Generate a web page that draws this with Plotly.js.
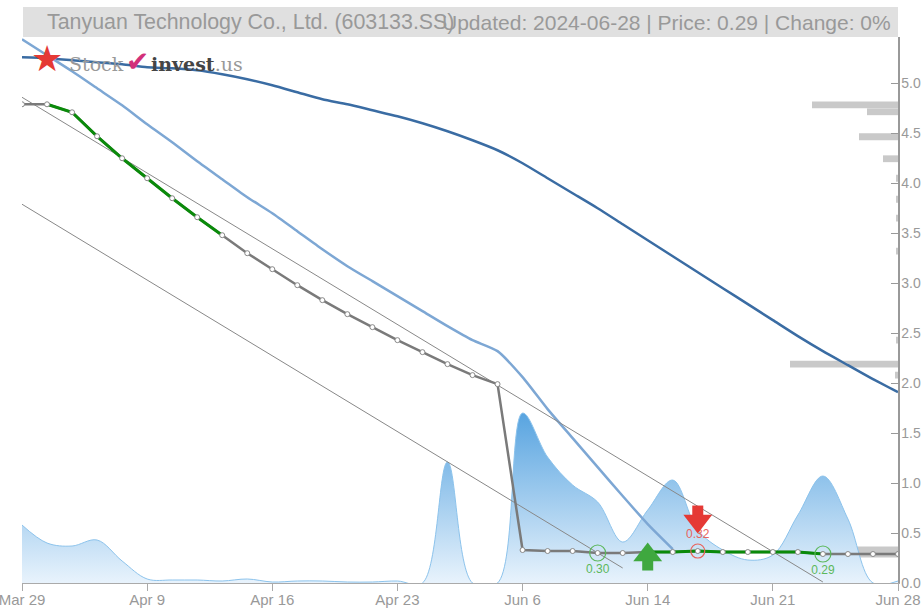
<!DOCTYPE html>
<html><head><meta charset="utf-8">
<script src="https://cdn.plot.ly/plotly-3.0.1.min.js"></script>
<style>html,body{margin:0;padding:0;background:#fff}#chart{width:923px;height:608px}</style>
</head><body><div id="chart"></div>
<script>
// ---------- data ----------
const dates = ["2024-03-29","2024-04-01","2024-04-02","2024-04-03","2024-04-08","2024-04-09","2024-04-10","2024-04-11","2024-04-12","2024-04-15","2024-04-16","2024-04-17","2024-04-18","2024-04-19","2024-04-22","2024-04-23","2024-04-24","2024-04-25","2024-04-26","2024-04-29","2024-06-06","2024-06-07","2024-06-11","2024-06-12","2024-06-13","2024-06-14","2024-06-17","2024-06-18","2024-06-19","2024-06-20","2024-06-21","2024-06-24","2024-06-25","2024-06-26","2024-06-27","2024-06-28"];
const tickDates = ["2024-03-29","2024-04-09","2024-04-16","2024-04-23","2024-06-06","2024-06-14","2024-06-21","2024-06-28"];
const tickLabels = ["Mar 29","Apr 9","Apr 16","Apr 23","Jun 6","Jun 14","Jun 21","Jun 28"];
const closePrice = [4.79,4.79,4.71,4.47,4.25,4.05,3.85,3.66,3.48,3.30,3.14,2.98,2.83,2.69,2.56,2.43,2.31,2.19,2.08,1.99,0.33,0.32,0.32,0.30,0.30,0.31,0.31,0.32,0.31,0.31,0.31,0.31,0.29,0.29,0.29,0.29];
const maFast = [5.44,5.28,5.12,4.95,4.78,4.59,4.41,4.22,4.04,3.86,3.70,3.52,3.34,3.17,3.02,2.87,2.72,2.57,2.43,2.32,2.06,1.74,1.45,1.16,0.87,0.59,0.34,null,null,null,null,null,null,null,null,null];
const maSlow = [5.26,5.25,5.23,5.21,5.19,5.16,5.15,5.13,5.09,5.04,4.98,4.91,4.84,4.79,4.73,4.67,4.60,4.52,4.43,4.33,4.20,4.05,3.90,3.75,3.59,3.43,3.27,3.11,2.95,2.79,2.63,2.47,2.32,2.18,2.04,1.91];
const volume = [58,40,37,43,22,4,3,3,2,4,1,2,2,1,1,2,0,121,0,0,170,126,98,81,41,73,103,53,33,23,28,68,107,64,0,2];
const upTrendStarts = ["2024-04-01","2024-06-14"];
const upTrendEnds = ["2024-04-12","2024-06-25"];
const channelUpperDates = ["2024-03-29","2024-06-25"];
const channelUpperValues = [4.86,0.01];
const channelLowerDates = ["2024-03-29","2024-06-13"];
const channelLowerValues = [3.79,0.15];
const levelPrices = [4.785,4.715,4.465,4.245,4.05,3.84,3.65,3.32,2.43,2.19,2.08,0.33,0.29];
const levelVolumes = [86,31,39,15,2,2,2,2,2,108,3,51,108];
const buyDates = ["2024-06-12","2024-06-25"];
const buyPrices = [0.30,0.29];
const sellDates = ["2024-06-18"];
const sellPrices = [0.32];
const buyArrowDates = ["2024-06-14"];
const sellArrowDates = ["2024-06-18"];

// ---------- helpers ----------
const idx = d => dates.indexOf(d);
const X = dates.map((d,i)=>i);
const last = dates.length-1;
const VOL_SCALE = 0.01;          // volume units -> price-axis units
const LEVEL_SCALE = last/876;    // level-volume units -> x units
const W=923,H=608,ML=22,MR=25,MT=37,MB=25;
const PW=W-ML-MR, PH=H-MT-MB;
const px = x => (x-ML)/PW;
const py = y => (H-MB-y)/PH;

const traces = [];
// volume area
traces.push({x:X, y:volume.map(v=>v*VOL_SCALE), type:'scatter', mode:'lines',
  line:{shape:'spline', smoothing:1, color:'rgb(140,195,236)', width:1},
  fill:'tozeroy', fillgradient:{type:'vertical', colorscale:[[0,'rgb(236,245,253)'],[1,'rgb(88,164,224)']]},
  hoverinfo:'skip'});
// price-level bars
traces.push({type:'bar', orientation:'h', y:levelPrices, x:levelVolumes.map(v=>-v*LEVEL_SCALE), base:last,
  width:0.068, marker:{color:'#c9c9c9', line:{width:0}}, hoverinfo:'skip'});
// moving averages
traces.push({x:X, y:maSlow, type:'scatter', mode:'lines', line:{color:'#3a6ca3', width:2.5, shape:'spline', smoothing:0.6}});
traces.push({x:X, y:maFast, type:'scatter', mode:'lines', line:{color:'#7da7d4', width:2.5, shape:'spline', smoothing:0.6}});
// channel lines
traces.push({x:channelUpperDates.map(idx), y:channelUpperValues, type:'scatter', mode:'lines', line:{color:'#888', width:1}});
traces.push({x:channelLowerDates.map(idx), y:channelLowerValues, type:'scatter', mode:'lines', line:{color:'#888', width:1}});
// price line
traces.push({x:X, y:closePrice, type:'scatter', mode:'lines', line:{color:'#7a7a7a', width:2.5}});
// up-trend green segments
upTrendStarts.forEach((s,k)=>{
  const a=idx(s), b=idx(upTrendEnds[k]);
  traces.push({x:X.slice(a,b+1), y:closePrice.slice(a,b+1), type:'scatter', mode:'lines', line:{color:'#0a8a0a', width:3}});
});
// price markers
traces.push({x:X, y:closePrice, type:'scatter', mode:'markers', marker:{color:'#fff', size:5, line:{color:'#888', width:1}}});
// buy / sell circles with labels
traces.push({x:buyDates.map(idx), y:buyPrices, type:'scatter', mode:'markers+text', text:buyPrices.map(v=>v.toFixed(2)),
  textposition:'bottom center', textfont:{family:'Liberation Sans', size:12, color:'#5cb85c'},
  marker:{symbol:'circle-open', size:16, color:'#5cb85c', line:{width:1.2}}});
traces.push({x:sellDates.map(idx), y:sellPrices, type:'scatter', mode:'markers+text', text:sellPrices.map(v=>v.toFixed(2)),
  textposition:'top center', textfont:{family:'Liberation Sans', size:12, color:'#e8645c'},
  marker:{symbol:'circle-open', size:14, color:'#e8645c', line:{width:1.2}}});
// arrows (head + stem), positioned relative to the close price
const buyA = buyArrowDates.map(idx), sellA = sellArrowDates.map(idx);
traces.push({x:buyA, y:buyA.map(i=>closePrice[i]-0.13), type:'scatter', mode:'markers', marker:{symbol:'square', size:11, color:'#3fa83f'}});
traces.push({x:buyA, y:buyA.map(i=>closePrice[i]-0.03), type:'scatter', mode:'markers', marker:{symbol:'triangle-up', size:25, color:'#3fa83f'}});
traces.push({x:sellA, y:sellA.map(i=>closePrice[i]+0.40), type:'scatter', mode:'markers', marker:{symbol:'square', size:11, color:'#e53935'}});
traces.push({x:sellA, y:sellA.map(i=>closePrice[i]+0.30), type:'scatter', mode:'markers', marker:{symbol:'triangle-down', size:25, color:'#e53935'}});

const layout = {
  width:W, height:H, margin:{l:ML, r:MR, t:MT, b:MB}, showlegend:false,
  paper_bgcolor:'#fff', plot_bgcolor:'#fff', hovermode:false,
  xaxis:{type:'linear', range:[0,last], tickvals:tickDates.map(idx), ticktext:tickLabels,
    showgrid:false, zeroline:false, showline:true, linecolor:'#aaa', linewidth:1,
    ticks:'outside', ticklen:7, tickcolor:'#aaa', tickfont:{family:'Liberation Sans', size:15, color:'#999'}, automargin:false,
    ticklabeloverflow:'allow', ticklabelstandoff:-4},
  yaxis:{side:'right', range:[0,(H-MB-MT)/99.94], dtick:0.5, tick0:0, tickformat:'.1f',
    showgrid:false, zeroline:false, showline:true, linecolor:'#999', linewidth:1.5,
    ticks:'inside', ticklen:7, tickcolor:'#999', tickfont:{family:'Liberation Sans', size:14, color:'#999'}, automargin:false,
    ticklabeloverflow:'allow', ticklabelstandoff:-1},
  shapes:[{type:'rect', xref:'paper', yref:'paper', x0:px(23), x1:px(898), y0:py(37), y1:py(7),
    fillcolor:'#e0e0e0', line:{width:0}, layer:'below'}],
  annotations:[
    {xref:'paper', yref:'paper', x:px(45), y:py(22), xanchor:'left', yanchor:'middle', showarrow:false,
     text:'Tanyuan Technology Co., Ltd. (603133.SS)', font:{family:'Liberation Sans', size:21.4, color:'#999'}},
    {xref:'paper', yref:'paper', x:px(893), y:py(22), xanchor:'right', yanchor:'middle', showarrow:false,
     text:'Updated: 2024-06-28 | Price: 0.29 | Change: 0%', font:{family:'Liberation Sans', size:21, color:'#999'}},
    {xref:'paper', yref:'paper', x:px(47), y:py(59), xanchor:'center', yanchor:'middle', showarrow:false,
     text:'★', font:{family:'DejaVu Sans', size:36, color:'#e53935'}},
    {xref:'paper', yref:'paper', x:px(67), y:py(64), xanchor:'left', yanchor:'middle', showarrow:false,
     text:'Stock', font:{family:'DejaVu Serif', size:19, color:'#999'}},
    {xref:'paper', yref:'paper', x:px(137), y:py(62), xanchor:'center', yanchor:'middle', showarrow:false,
     text:'✔', font:{family:'DejaVu Sans', size:28, color:'#d2307a'}},
    {xref:'paper', yref:'paper', x:px(149), y:py(64), xanchor:'left', yanchor:'middle', showarrow:false,
     text:'<b>invest</b><span style="color:#999">.us</span>', font:{family:'DejaVu Serif', size:19, color:'#444'}}
  ]
};
Plotly.newPlot('chart', traces, layout, {displayModeBar:false, staticPlot:true});
</script></body></html>
